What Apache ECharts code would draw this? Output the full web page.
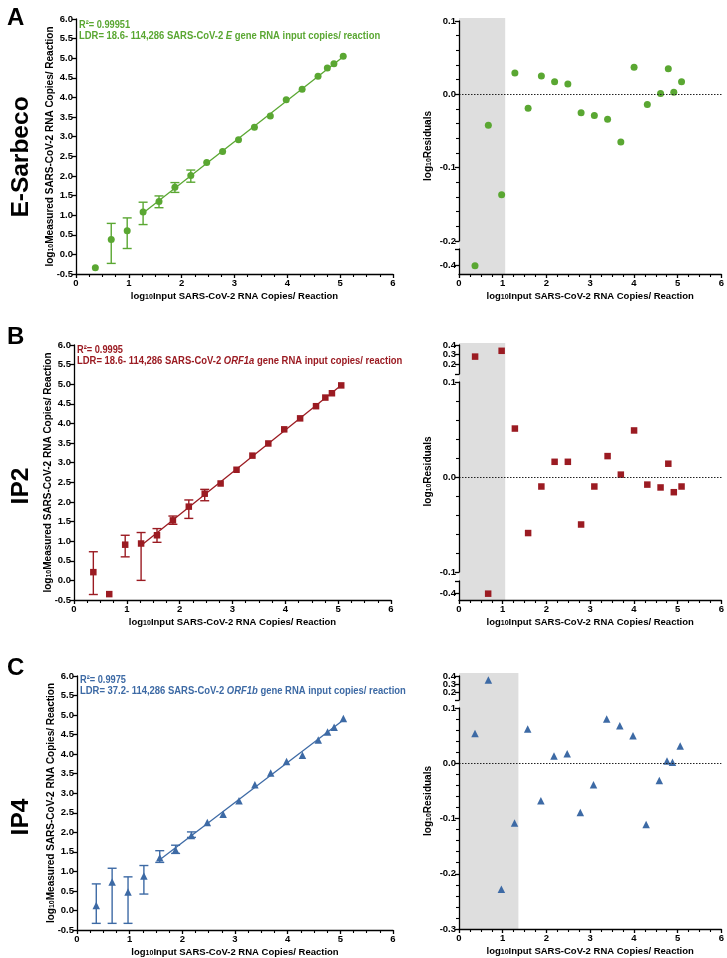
<!DOCTYPE html>
<html>
<head>
<meta charset="utf-8">
<script src="https://cdn.jsdelivr.net/npm/echarts@6/dist/echarts.min.js"></script>
<style>
html,body{margin:0;padding:0;background:#fff;}
#main{width:727px;height:958px;}
</style>
</head>
<body>
<div id="main"></div>
<script>
// ---------- DATA ----------
const xInput = [0.366, 0.667, 0.969, 1.270, 1.571, 1.872, 2.173, 2.474, 2.775, 3.076, 3.377, 3.678, 3.979, 4.280, 4.581, 4.757, 4.882, 5.058];

const measuredA = [-0.34, 0.38, 0.60, 1.08, 1.35, 1.71, 2.01, 2.34, 2.62, 2.92, 3.24, 3.53, 3.94, 4.21, 4.54, 4.75, 4.86, 5.05];
const errLowA  = [null, -0.23, 0.15, 0.76, 1.19, 1.58, 1.84, null, null, null, null, null, null, null, null, null, null, null];
const errHighA = [null, 0.79, 0.93, 1.33, 1.49, 1.83, 2.15, null, null, null, null, null, null, null, null, null, null, null];
const residA = [-0.40, -0.042, -0.137, 0.029, -0.019, 0.025, 0.017, 0.014, -0.025, -0.029, -0.034, -0.065, 0.037, -0.014, 0.001, 0.035, 0.003, 0.017];

const measuredB = [0.21, -0.35, 0.91, 0.94, 1.15, 1.53, 1.88, 2.21, 2.47, 2.82, 3.18, 3.49, 3.85, 4.13, 4.44, 4.66, 4.77, 4.97];
const errLowB  = [-0.36, null, 0.60, 0.00, 0.97, 1.43, 1.58, 2.03, null, null, null, null, null, null, null, null, null, null];
const errHighB = [0.73, null, 1.15, 1.22, 1.32, 1.64, 2.05, 2.32, null, null, null, null, null, null, null, null, null, null];
const residB = [0.28, -0.40, 0.34, 0.051, -0.059, -0.010, 0.016, 0.016, -0.050, -0.010, 0.022, 0.0025, 0.049, -0.008, -0.011, 0.014, -0.016, -0.010];

const measuredC = [0.13, 0.73, 0.47, 0.88, 1.35, 1.55, 1.92, 2.25, 2.46, 2.81, 3.22, 3.52, 3.81, 3.97, 4.36, 4.57, 4.69, 4.91];
const errLowC  = [-0.33, -0.33, -0.33, 0.42, 1.23, 1.46, 1.87, null, null, null, null, null, null, null, null, null, null, null];
const errHighC = [0.68, 1.08, 0.86, 1.15, 1.53, 1.67, 2.01, null, null, null, null, null, null, null, null, null, null, null];
const residC = [0.054, 0.35, -0.228, -0.108, 0.062, -0.068, 0.013, 0.017, -0.089, -0.039, 0.080, 0.068, 0.050, -0.111, -0.031, 0.004, 0.002, 0.031];

const xTicks = [0, 1, 2, 3, 4, 5, 6];
const fitStartIndex = {A: 3, B: 3, C: 4};   // first point of the linear dynamic range
const lowLimit = {A: 1.05, B: 1.05, C: 1.35}; // shaded region (below LDR)

const rowNames = ['E-Sarbeco', 'IP2', 'IP4'];
const panelLetters = ['A', 'B', 'C'];
const r2Text = ['R²= 0.99951', 'R²= 0.9995', 'R²= 0.9975'];
const ldrText = [
  ['LDR= 18.6- 114,286 SARS-CoV-2 ', 'E', ' gene RNA input copies/ reaction'],
  ['LDR= 18.6- 114,286 SARS-CoV-2 ', 'ORF1a', ' gene RNA input copies/ reaction'],
  ['LDR= 37.2- 114,286 SARS-CoV-2 ', 'ORF1b', ' gene RNA input copies/ reaction']
];
const xTitle = 'log{s|10}Input SARS-CoV-2 RNA Copies/ Reaction';
const yTitleLeft = 'log{s|10}Measured SARS-CoV-2 RNA Copies/ Reaction';
const yTitleRight = 'log{s|10}Residuals';

// ---------- STYLE / LAYOUT ----------
const FONT = '"Liberation Sans", Arial, Helvetica, sans-serif';
const colors = ['#5aa732', '#9b1b22', '#3d6aa5'];
const symbols = ['circle', 'rect', 'triangle'];
const symSizes = [7, 6.5, 7.5];

const leftGrids = [
  {left: 76, top: 19, width: 317, height: 255},
  {left: 74, top: 345, width: 317, height: 255},
  {left: 77, top: 676, width: 316, height: 254}
];
const rightPanels = [
  {band: {top: 18, height: 256}, segs: [
    {top: 21, height: 220, min: -0.2, max: 0.1, kind: 'main'},
    {top: 249, height: 25, min: -0.45, max: -0.3, kind: 'low'}
  ]},
  {band: {top: 343, height: 257}, segs: [
    {top: 345, height: 29, min: 0.1, max: 0.4, kind: 'high'},
    {top: 382, height: 190, min: -0.1, max: 0.1, kind: 'main'},
    {top: 581, height: 19, min: -0.45, max: -0.3, kind: 'low'}
  ]},
  {band: {top: 673, height: 256}, segs: [
    {top: 676, height: 24, min: 0.1, max: 0.4, kind: 'high'},
    {top: 708, height: 221, min: -0.3, max: 0.1, kind: 'main'}
  ]}
];
const RLEFT = 459, RWIDTH = 264;

const rich = {s: {fontSize: 7, fontWeight: 'bold', fontFamily: FONT, verticalAlign: 'bottom', padding: [3, 0, 0, 0]}};
const lineSt = {color: '#000', width: 1.3};
const labelSt = {fontSize: 9.5, fontWeight: 'bold', color: '#000', fontFamily: FONT, showMinLabel: true, showMaxLabel: true, hideOverlap: false};
const xTitleSt = {fontSize: 9.5, fontWeight: 'bold', color: '#000', fontFamily: FONT, rich: rich};
const yTitleSt = {fontSize: 10, fontWeight: 'bold', color: '#000', fontFamily: FONT, rich: rich};

const grids = [], xAxes = [], yAxes = [], series = [];

function addGrid(g) { grids.push(Object.assign({containLabel: false}, g)); return grids.length - 1; }

function xAxisDef(gi, show, name) {
  return {
    type: 'value', gridIndex: gi, min: xTicks[0], max: xTicks[xTicks.length - 1], interval: 1, z: 10,
    show: show,
    axisLine: {show: show, onZero: false, lineStyle: lineSt},
    axisTick: {show: show, length: 4, lineStyle: lineSt},
    minorTick: {show: show, splitNumber: 4, length: 3, lineStyle: {color: '#000', width: 1.1}},
    splitLine: {show: false},
    axisLabel: Object.assign({show: show, margin: 4}, labelSt),
    name: name || '', nameLocation: 'middle', nameGap: 17,
    nameTextStyle: xTitleSt
  };
}

const datasets = {
  A: {meas: measuredA, lo: errLowA, hi: errHighA, res: residA},
  B: {meas: measuredB, lo: errLowB, hi: errHighB, res: residB},
  C: {meas: measuredC, lo: errLowC, hi: errHighC, res: residC}
};

panelLetters.forEach(function (L, p) {
  const d = datasets[L];
  const col = colors[p];
  // ----- left calibration plot -----
  const gi = addGrid(leftGrids[p]);
  xAxes.push(xAxisDef(gi, true, xTitle));
  yAxes.push({
    type: 'value', gridIndex: gi, min: -0.5, max: 6, interval: 0.5, z: 10,
    axisLine: {show: true, onZero: false, lineStyle: lineSt},
    axisTick: {show: true, length: 4, lineStyle: lineSt},
    splitLine: {show: false},
    axisLabel: Object.assign({margin: 3, formatter: v => v.toFixed(1)}, labelSt),
    name: yTitleLeft, nameLocation: 'middle', nameGap: 21, nameMoveOverlap: false,
    nameTextStyle: yTitleSt
  });
  const errData = [];
  xInput.forEach((x, i) => { if (d.lo[i] !== null) errData.push([x, d.lo[i], d.hi[i]]); });
  series.push({
    type: 'custom', xAxisIndex: gi, yAxisIndex: yAxes.length - 1, z: 3, silent: true,
    encode: {x: 0, y: [1, 2]}, data: errData,
    renderItem: function (params, api) {
      const x = api.value(0), a = api.coord([x, api.value(1)]), b = api.coord([x, api.value(2)]);
      const w = 4.5, st = {stroke: col, lineWidth: 1.4};
      return {type: 'group', children: [
        {type: 'line', shape: {x1: a[0], y1: a[1], x2: b[0], y2: b[1]}, style: st},
        {type: 'line', shape: {x1: a[0] - w, y1: a[1], x2: a[0] + w, y2: a[1]}, style: st},
        {type: 'line', shape: {x1: b[0] - w, y1: b[1], x2: b[0] + w, y2: b[1]}, style: st}
      ]};
    }
  });
  const yiLeft = yAxes.length - 1, xiLeft = xAxes.length - 1;
  const s0 = fitStartIndex[L];
  const xs = xInput.slice(s0), ys = d.meas.slice(s0);
  const n = xs.length, mx = xs.reduce((a, b) => a + b) / n, my = ys.reduce((a, b) => a + b) / n;
  let sxy = 0, sxx = 0;
  xs.forEach((x, i) => { sxy += (x - mx) * (ys[i] - my); sxx += (x - mx) * (x - mx); });
  const slope = sxy / sxx, icpt = my - slope * mx;
  series.push({
    type: 'line', xAxisIndex: xiLeft, yAxisIndex: yiLeft, z: 2, silent: true, showSymbol: false,
    lineStyle: {color: col, width: 1.3},
    data: [[xs[0], icpt + slope * xs[0]], [xs[n - 1], icpt + slope * xs[n - 1]]]
  });
  series.push({
    type: 'scatter', xAxisIndex: xiLeft, yAxisIndex: yiLeft, z: 4, silent: true,
    symbol: symbols[p], symbolSize: symSizes[p], itemStyle: {color: col, opacity: 1},
    data: xInput.map((x, i) => [x, d.meas[i]])
  });

  // ----- right residual plot -----
  const rp = rightPanels[p];
  const bg = addGrid({left: RLEFT, width: RWIDTH, top: rp.band.top, height: rp.band.height});
  xAxes.push(xAxisDef(bg, false));
  yAxes.push({
    type: 'value', gridIndex: bg, min: 0, max: 1, show: true,
    axisLine: {show: false}, axisTick: {show: false}, axisLabel: {show: false}, splitLine: {show: false},
    name: yTitleRight, nameLocation: 'middle', nameGap: 26, nameMoveOverlap: false,
    nameTextStyle: yTitleSt
  });
  series.push({
    type: 'scatter', xAxisIndex: xAxes.length - 1, yAxisIndex: yAxes.length - 1, z: 0, silent: true, data: [],
    markArea: {silent: true, itemStyle: {color: '#dedede'}, data: [[{xAxis: 0}, {xAxis: lowLimit[L]}]]}
  });
  rp.segs.forEach(function (sg, k) {
    const isBottom = k === rp.segs.length - 1;
    const g = addGrid({left: RLEFT, width: RWIDTH, top: sg.top, height: sg.height});
    xAxes.push(xAxisDef(g, isBottom, isBottom ? xTitle : ''));
    const xi = xAxes.length - 1;
    const y = {
      type: 'value', gridIndex: g, min: sg.min, max: sg.max, z: 10,
      axisLine: {show: true, onZero: false, lineStyle: lineSt},
      axisTick: {show: true, length: 4, lineStyle: lineSt},
      splitLine: {show: false},
      axisLabel: Object.assign({margin: 3, formatter: v => v.toFixed(1)}, labelSt)
    };
    let extraY = null;
    if (sg.kind === 'main') {
      y.interval = 0.1;
      y.minorTick = {show: true, splitNumber: 5, length: 3, lineStyle: {color: '#000', width: 1.1}};
    } else if (sg.kind === 'high') {
      y.interval = 0.1;
      y.axisTick.customValues = [0.1, 0.2, 0.3, 0.4];
      y.axisLabel.customValues = [0.2, 0.4];
      // middle label on a twin axis so the tightly packed labels are not auto-hidden
      extraY = {
        type: 'value', gridIndex: g, min: sg.min, max: sg.max, position: 'left', z: 10,
        axisLine: {show: false, onZero: false}, axisTick: {show: false}, splitLine: {show: false},
        axisLabel: Object.assign({margin: 3, formatter: v => v.toFixed(1), customValues: [0.3]}, labelSt)
      };
    } else {
      y.interval = 0.05;
      y.axisTick.customValues = [-0.4, -0.3];
      y.axisLabel.customValues = [-0.4];
    }
    yAxes.push(y);
    const yi = yAxes.length - 1;
    if (extraY) yAxes.push(extraY);
    const pts = [];
    xInput.forEach((x, i) => { const v = d.res[i]; if (v >= sg.min - 1e-9 && v <= sg.max + 1e-9) pts.push([x, v]); });
    const s = {
      type: 'scatter', xAxisIndex: xi, yAxisIndex: yi, z: 4, silent: true,
      symbol: symbols[p], symbolSize: symSizes[p], itemStyle: {color: col, opacity: 1}, data: pts
    };
    if (sg.kind === 'main') {
      s.markLine = {silent: true, symbol: 'none', label: {show: false},
        lineStyle: {color: '#222', type: [1.5, 1.5], width: 1}, data: [{yAxis: 0}]};
    }
    series.push(s);
  });
});

// ---------- TEXT GRAPHICS ----------
const graphic = [];
const letterY = [6, 325, 656];
const rowCenterY = [157, 486, 817];
const annY = [19, 344, 674];
const annX = [79, 77, 80];
panelLetters.forEach(function (L, p) {
  graphic.push({type: 'text', x: 7, y: letterY[p], style: {text: L, fontSize: 24, fontWeight: 'bold', fontFamily: FONT, fill: '#000'}});
  graphic.push({type: 'text', x: 21, y: rowCenterY[p], rotation: Math.PI / 2,
    style: {text: rowNames[p], fontSize: 24.5, fontWeight: 'bold', fontFamily: FONT, fill: '#000', align: 'center', verticalAlign: 'middle'}});
  graphic.push({type: 'text', x: annX[p], y: annY[p] + 0.5, scaleX: 0.88,
    style: {text: r2Text[p], fontSize: 10.5, fontWeight: 'bold', fontFamily: FONT, fill: colors[p]}});
  graphic.push({type: 'text', x: annX[p], y: annY[p] + 12, scaleX: 0.9,
    style: {text: ldrText[p][0] + '{i|' + ldrText[p][1] + '}' + ldrText[p][2], fontSize: 10.5, fontWeight: 'bold', fontFamily: FONT, fill: colors[p],
      rich: {i: {fontSize: 10.5, fontWeight: 'bold', fontStyle: 'italic', fontFamily: FONT, fill: colors[p], color: colors[p]}}}});
});

const chart = echarts.init(document.getElementById('main'), null, {renderer: 'canvas'});
chart.setOption({
  animation: false,
  backgroundColor: '#fff',
  grid: grids, xAxis: xAxes, yAxis: yAxes, series: series, graphic: graphic
});
</script>
</body>
</html>
